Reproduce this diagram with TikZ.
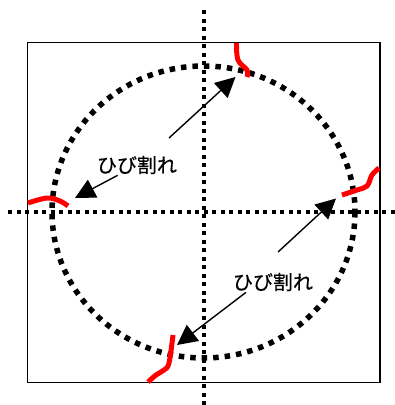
\documentclass[tikz,border=0pt]{standalone}
\usepackage{fontspec}
\newfontfamily\jpfont[FakeBold=0.6]{Noto Sans CJK JP}
\usetikzlibrary{arrows.meta, calc}

\begin{document}
\begin{tikzpicture}[
    x=1pt, y=-1pt,
    boxframe/.style={draw=black, line width=1.5pt},
    centerline/.style={line width=3.8pt, dash pattern=on 4pt off 4.5pt},
    ring/.style={line width=5.5pt, dash pattern=on 5.5pt off 6pt},
    crack/.style={draw=red, line width=5pt, line join=round},
    arrow/.style={-{Triangle[length=20pt, width=20pt]}, line width=1.4pt},
    cracktext/.style={font=\jpfont\fontsize{20}{24}\selectfont, inner sep=1pt}
]
    \useasboundingbox (0,0) rectangle (395,405);

    % Centre of the ring
    \coordinate (c) at (203.5,212);

    % Outer frame
    \draw[boxframe] (27.5,42.5) rectangle (380,382.5);

    % Centre lines
    \draw[centerline] (204,10) -- (204,405);
    \draw[centerline] (8,212) -- (395,212);

    % Dotted ring
    \draw[ring] (c) ellipse [x radius=151.5, y radius=146];

    % Cracks
    \draw[crack] plot[smooth, tension=0.6] coordinates {(236.5,43) (238,60) (247,70) (247,77)};
    \draw[crack] plot[smooth, tension=0.6] coordinates {(28,203) (47,198) (60,201) (68,206)};
    \draw[crack] plot[smooth, tension=0.6] coordinates {(342,195) (357,190) (367,186) (372,175) (379,168)};
    \draw[crack] plot[smooth, tension=0.6] coordinates {(173,335) (169,363) (164,370) (156,375) (148,382)};

    % Labels
    \node[cracktext] (txtA) at (137,165) {ひび割れ};
    \node[cracktext] (txtB) at (273,282) {ひび割れ};

    % Arrow ends
    \coordinate (tipT) at (235.5,77);
    \coordinate (tipL) at (75,198);
    \coordinate (tipR) at (336,198.5);
    \coordinate (tipB) at (177,345);
    \coordinate (startT) at (169,138);
    \coordinate (startR) at (278,252);

    % Arrows
    \draw[arrow] (startT) -- (tipT);
    \draw[arrow] (txtA) -- (tipL);
    \draw[arrow] (startR) -- (tipR);
    \draw[arrow] ($(txtB.south)+(-27,0)$) -- (tipB);

\end{tikzpicture}
\end{document}
